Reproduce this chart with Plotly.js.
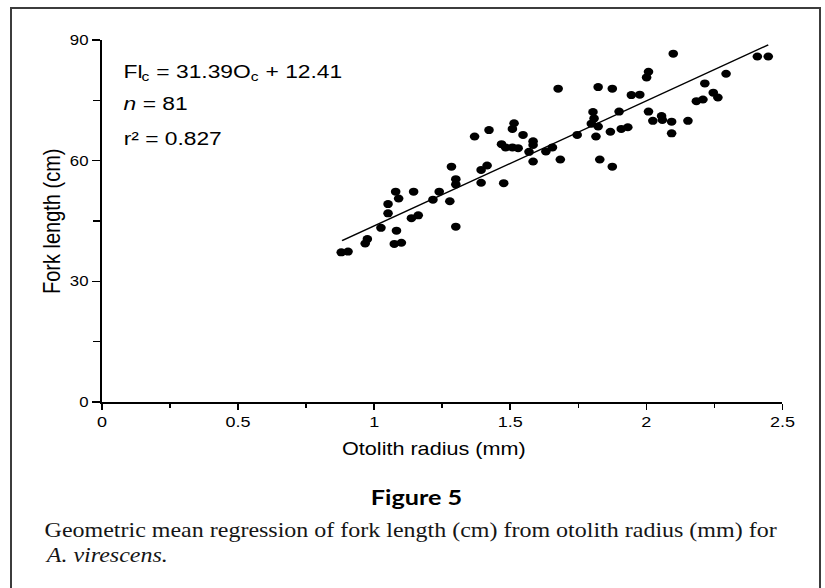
<!DOCTYPE html>
<html>
<head>
<meta charset="utf-8">
<script src="https://cdn.plot.ly/plotly-3.0.1.min.js"></script>
<style>
  html, body { margin: 0; padding: 0; background: #fff; overflow: hidden; width: 825px; height: 588px; }
  #wrap { position: absolute; left: 0; top: 0; width: 688px; height: 588px; transform: scaleX(1.2); transform-origin: 0 0; }
  #chart { width: 688px; height: 588px; }
  #frame { position: absolute; left: 10px; top: 7px; width: 811px; height: 620px; border: 2px solid #3c3c3c; box-sizing: border-box; pointer-events: none; }
</style>
</head>
<body>
<div id="wrap"><div id="chart"></div></div>
<div id="frame"></div>
<script>
// Data
const otolithRadius = [0.879,0.904,0.967,0.975,1.025,1.082,1.074,1.100,1.051,1.051,1.079,1.090,1.145,1.137,1.162,1.216,1.239,1.278,1.284,1.300,1.300,1.300,1.393,1.393,1.415,1.476,1.369,1.422,1.514,1.508,1.547,1.468,1.483,1.508,1.529,1.584,1.584,1.569,1.631,1.655,1.584,1.684,1.676,1.746,1.815,1.804,1.808,1.798,1.823,1.900,1.868,1.908,1.932,1.829,1.875,1.823,1.875,1.945,1.976,2.001,2.008,2.008,2.056,2.059,2.024,2.093,2.153,2.093,2.184,2.208,2.215,2.246,2.263,2.293,2.099,2.408,2.448];
const forkLength = [37.2,37.4,39.4,40.5,43.3,42.6,39.3,39.6,46.9,49.2,52.3,50.6,52.3,45.7,46.4,50.3,52.3,49.9,58.5,55.4,54.1,43.6,54.5,57.7,58.8,54.4,66.0,67.6,69.3,67.9,66.4,64.1,63.3,63.3,63.1,64.8,63.9,62.2,62.3,63.3,59.8,60.3,77.9,66.4,66.0,72.1,70.5,69.2,68.5,72.2,67.2,67.9,68.3,60.3,58.5,78.3,77.9,76.3,76.4,80.7,82.1,72.2,71.1,70.1,69.9,69.7,69.9,66.8,74.8,75.2,79.2,76.9,75.7,81.6,86.6,85.9,85.9];
const regressionX = [0.882, 2.448];
const regressionY = [40.1, 88.8];
const xTickVals = [0, 0.5, 1, 1.5, 2, 2.5];
const xTickText = ["0", "0.5", "1", "1.5", "2", "2.5"];
const yTickVals = [0, 30, 60, 90];
const yTickText = ["0", "30", "60", "90"];
// Equation line 1 pieces: [text, isSubscript, width in em (Arial metrics)]
const equationPieces = [["Fl", false, 0.833], ["c", true, 0.5], [" = 31.39O", false, 4.42], ["c", true, 0.5], [" + 12.41", false, 3.642]];
const statLines = ["<i>n</i> = 81", "r² = 0.827"];
const equationY = [82.2, 74.1, 65.6];

const sans = "Liberation Sans, Arial, sans-serif";
const serif = "Liberation Serif, Times New Roman, serif";

const W = 688, ML = 85, MR = 36;
const eqSize = 19, subSize = 13;
const dataPerPx = 2.5 / (W - ML - MR);

const traces = [
  {
    x: otolithRadius, y: forkLength, type: "scatter", mode: "markers",
    marker: { color: "#000", size: 8, line: { width: 0 } },
    hoverinfo: "skip", showlegend: false
  },
  {
    x: regressionX, y: regressionY, type: "scatter", mode: "lines",
    line: { color: "#000", width: 1.4 },
    hoverinfo: "skip", showlegend: false
  }
];

const annotations = [];
let cursor = 0.075;
equationPieces.forEach(([t, sub, em]) => {
  const size = sub ? subSize : eqSize;
  annotations.push({
    text: t, xref: "x", yref: "y", x: cursor - (sub ? 0.5 * dataPerPx : 0), y: sub ? equationY[0] - 1.3 : equationY[0],
    xanchor: "left", yanchor: "middle", showarrow: false, borderpad: 0,
    font: { family: sans, size: size, color: "#000" }
  });
  cursor += em * size * dataPerPx;
});
statLines.forEach((t, i) => {
  annotations.push({
    text: t, xref: "x", yref: "y", x: 0.075, y: equationY[i + 1],
    xanchor: "left", yanchor: "middle", showarrow: false, borderpad: 0,
    font: { family: sans, size: eqSize, color: "#000" }
  });
});

annotations.push(
  { text: "Fork length (cm)", xref: "paper", yref: "paper", x: -0.074, y: 0.5, textangle: -90,
    xanchor: "center", yanchor: "middle", showarrow: false, font: { family: sans, size: 20, color: "#000" } },
  { text: "Otolith radius (mm)", xref: "x", yref: "paper", x: 1.219, y: -0.130,
    xanchor: "center", yanchor: "middle", showarrow: false, font: { family: sans, size: 18, color: "#000" } },
  { text: "Figure 5", xref: "x", yref: "paper", x: 1.153, y: -0.260,
    xanchor: "center", yanchor: "middle", showarrow: false, font: { family: "Lato, " + sans, size: 21, weight: "bold", color: "#000" } },
  { text: "Geometric mean regression of fork length (cm) from otolith radius (mm) for", xref: "paper", yref: "paper", x: -0.089, y: -0.354,
    xanchor: "left", yanchor: "middle", showarrow: false, font: { family: serif, size: 20, color: "#151515" } },
  { text: "A. virescens.", xref: "paper", yref: "paper", x: -0.089, y: -0.423,
    xanchor: "left", yanchor: "middle", showarrow: false, font: { family: serif, size: 20, style: "italic", color: "#151515" } }
);

const layout = {
  width: W, height: 588,
  margin: { l: ML, r: MR, t: 40, b: 186, pad: 0 },
  paper_bgcolor: "#fff", plot_bgcolor: "#fff",
  showlegend: false,
  xaxis: {
    range: [0, 2.5], tickvals: xTickVals, ticktext: xTickText,
    ticks: "outside", ticklen: 6, tickwidth: 1.3, tickcolor: "#000",
    showline: true, linecolor: "#000", linewidth: 1.5,
    showgrid: false, zeroline: false,
    tickfont: { family: sans, size: 15, color: "#000" },
    minor: { dtick: 0.25, tick0: 0, ticks: "outside", ticklen: 4, tickwidth: 1.3, tickcolor: "#000", showgrid: false }
  },
  yaxis: {
    range: [0, 90], tickvals: yTickVals, ticktext: yTickText,
    ticks: "outside", ticklen: 7, tickwidth: 1.5, tickcolor: "#000",
    showline: true, linecolor: "#000", linewidth: 1.4,
    showgrid: false, zeroline: false,
    tickfont: { family: sans, size: 14, color: "#000" },
    minor: { dtick: 15, tick0: 0, ticks: "outside", ticklen: 6, tickwidth: 1.5, tickcolor: "#000", showgrid: false }
  },
  annotations: annotations
};

Plotly.newPlot("chart", traces, layout, { staticPlot: true, displayModeBar: false });
</script>
</body>
</html>
